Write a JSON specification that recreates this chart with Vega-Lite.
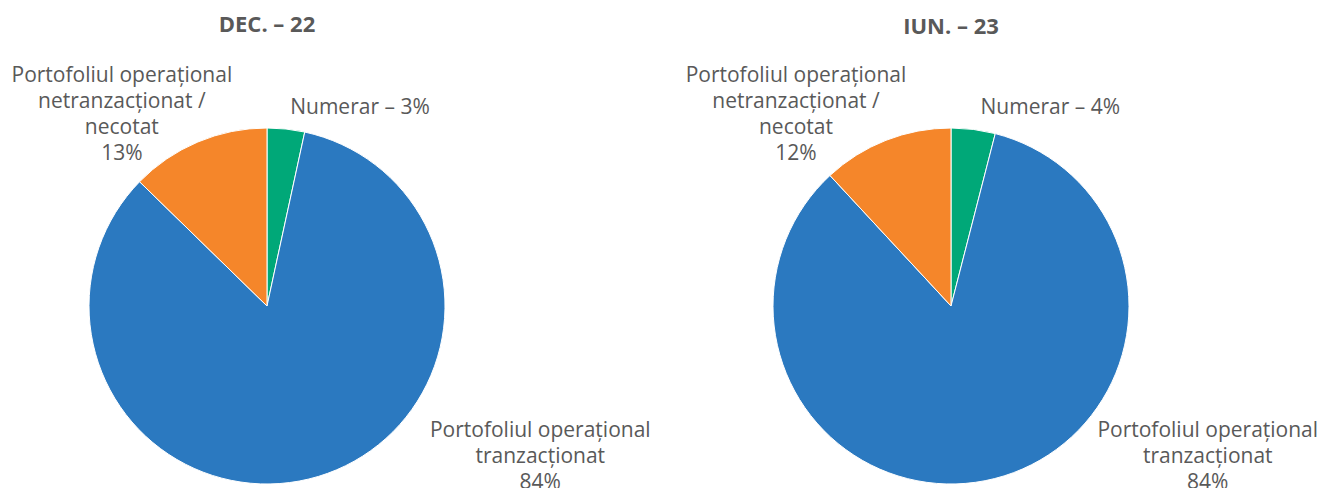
{
  "$schema": "https://vega.github.io/schema/vega-lite/v6.json",
  "padding": {"top": 14, "left": 0, "right": 0, "bottom": 0},
  "background": "white",
  "bounds": "flush",
  "config": {
    "view": {"stroke": null},
    "concat": {"spacing": 150},
    "title": {"fontSize": 22, "font": "Open Sans", "fontWeight": "bold", "color": "#595959", "anchor": "middle", "offset": 15, "letterSpacing": 1.5},
    "text": {"font": "Open Sans", "fontSize": 21, "fill": "#595959", "lineBreak": "\n", "lineHeight": 26, "align": "center", "baseline": "middle"}
  },
  "datasets": {
    "pie": [
      {"period": "DEC. – 22", "cat": "Numerar", "ord": 1, "value": 3.4, "label": "Numerar – 3%"},
      {"period": "DEC. – 22", "cat": "Portofoliul operațional tranzacționat", "ord": 2, "value": 83.9, "label": "Portofoliul operațional\ntranzacționat\n84%"},
      {"period": "DEC. – 22", "cat": "Portofoliul operațional netranzacționat / necotat", "ord": 3, "value": 12.7, "label": "Portofoliul operațional\nnetranzacționat /\nnecotat\n13%"},
      {"period": "IUN. – 23", "cat": "Numerar", "ord": 1, "value": 4.0, "label": "Numerar – 4%"},
      {"period": "IUN. – 23", "cat": "Portofoliul operațional tranzacționat", "ord": 2, "value": 84.1, "label": "Portofoliul operațional\ntranzacționat\n84%"},
      {"period": "IUN. – 23", "cat": "Portofoliul operațional netranzacționat / necotat", "ord": 3, "value": 11.9, "label": "Portofoliul operațional\nnetranzacționat /\nnecotat\n12%"}
    ]
  },
  "hconcat": [
    {
      "title": "DEC. – 22",
      "width": 534,
      "height": 366,
      "data": {"name": "pie"},
      "transform": [{"filter": "datum.period === 'DEC. – 22'"}],
      "encoding": {
        "theta": {"field": "value", "type": "quantitative", "stack": true},
        "order": {"field": "ord", "type": "quantitative"}
      },
      "layer": [
        {
          "mark": {"type": "arc", "outerRadius": 178, "stroke": "white", "strokeWidth": 1},
          "encoding": {
            "color": {"field": "cat", "type": "nominal", "legend": null,
              "scale": {"domain": ["Numerar", "Portofoliul operațional tranzacționat", "Portofoliul operațional netranzacționat / necotat"], "range": ["#00A878", "#2B79C0", "#F5862A"]}}
          }
        },
        {
          "mark": {"type": "text", "radius": 178, "dx": 74, "dy": -21},
          "encoding": {"text": {"condition": {"test": "datum.ord === 1", "field": "label"}, "value": ""}}
        },
        {
          "mark": {"type": "text", "radius": 178, "dx": 222, "dy": -45.5},
          "encoding": {"text": {"condition": {"test": "datum.ord === 2", "field": "label"}, "value": ""}}
        },
        {
          "mark": {"type": "text", "radius": 178, "dx": -76, "dy": -66},
          "encoding": {"text": {"condition": {"test": "datum.ord === 3", "field": "label"}, "value": ""}}
        }
      ]
    },
    {
      "title": "IUN. – 23",
      "width": 534,
      "height": 366,
      "data": {"name": "pie"},
      "transform": [{"filter": "datum.period === 'IUN. – 23'"}],
      "encoding": {
        "theta": {"field": "value", "type": "quantitative", "stack": true},
        "order": {"field": "ord", "type": "quantitative"}
      },
      "layer": [
        {
          "mark": {"type": "arc", "outerRadius": 178, "stroke": "white", "strokeWidth": 1},
          "encoding": {
            "color": {"field": "cat", "type": "nominal", "legend": null,
              "scale": {"domain": ["Numerar", "Portofoliul operațional tranzacționat", "Portofoliul operațional netranzacționat / necotat"], "range": ["#00A878", "#2B79C0", "#F5862A"]}}
          }
        },
        {
          "mark": {"type": "text", "radius": 178, "dx": 77, "dy": -21},
          "encoding": {"text": {"condition": {"test": "datum.ord === 1", "field": "label"}, "value": ""}}
        },
        {
          "mark": {"type": "text", "radius": 178, "dx": 213, "dy": -47.5},
          "encoding": {"text": {"condition": {"test": "datum.ord === 2", "field": "label"}, "value": ""}}
        },
        {
          "mark": {"type": "text", "radius": 178, "dx": -90, "dy": -64},
          "encoding": {"text": {"condition": {"test": "datum.ord === 3", "field": "label"}, "value": ""}}
        }
      ]
    }
  ]
}
